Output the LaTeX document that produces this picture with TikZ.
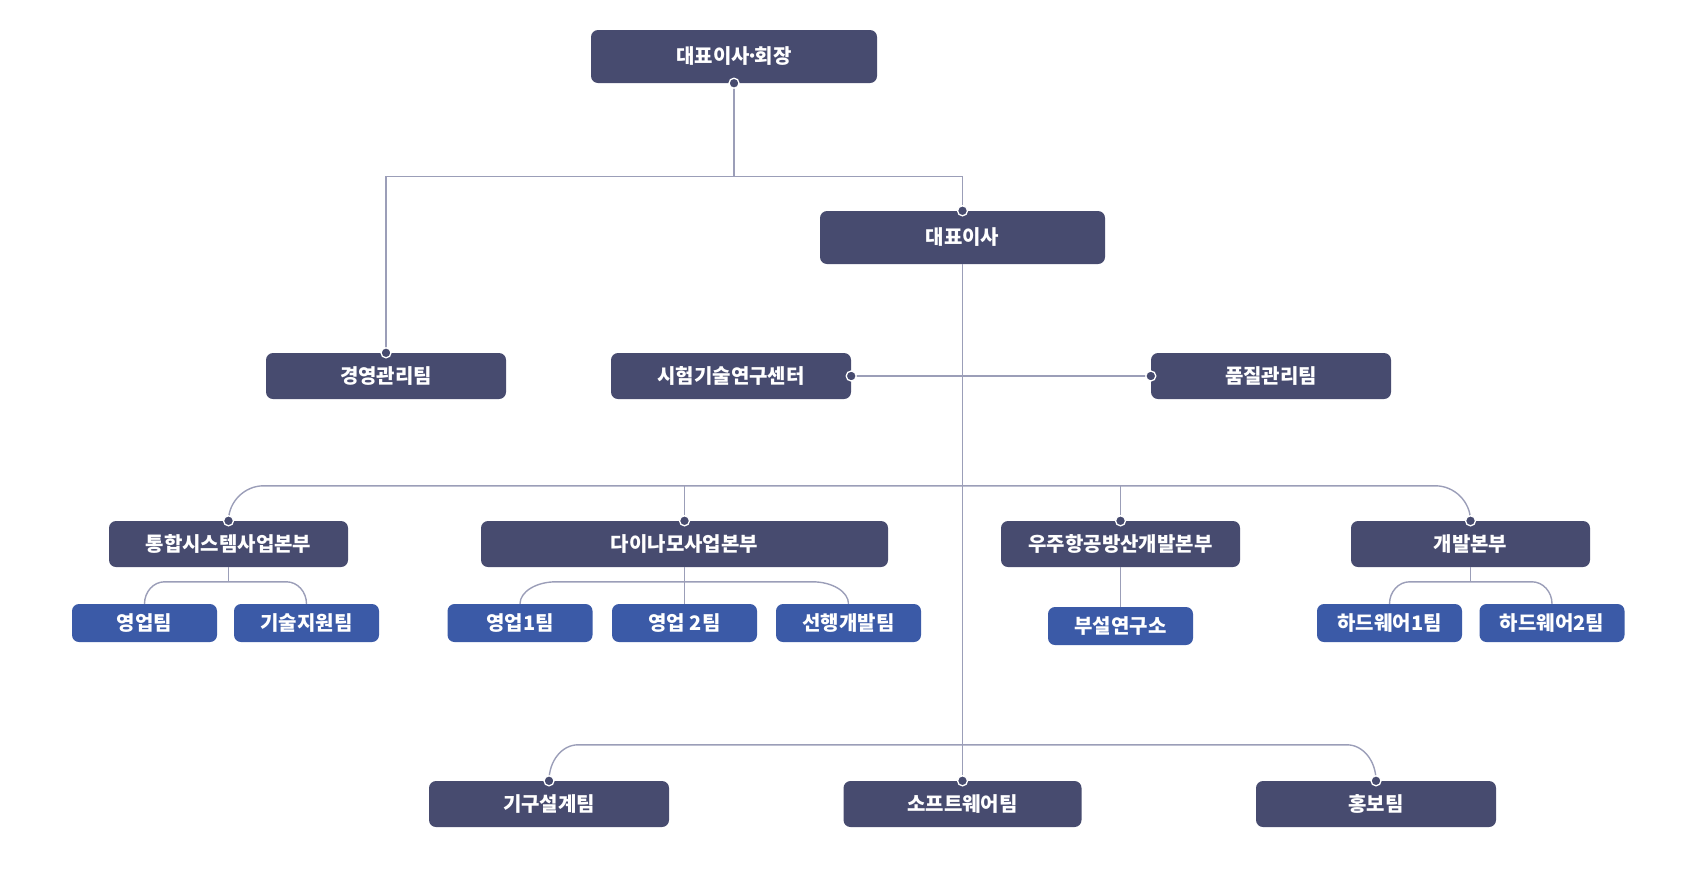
\documentclass[tikz,border=0pt]{standalone}
\usepackage{fontspec}
\setmainfont{Noto Sans CJK KR}
\definecolor{navy}{RGB}{71,75,111}
\definecolor{bluebox}{RGB}{59,90,167}
\definecolor{linec}{RGB}{155,158,184}
\begin{document}
\begin{tikzpicture}[x=1pt,y=1pt,
  box/.style={fill=navy, rounded corners=7pt, text=white, inner sep=0pt,
    font=\fontsize{20}{20}\selectfont\bfseries, minimum height=46pt, minimum width=240pt},
  sub/.style={box, fill=bluebox, minimum height=38pt, minimum width=145pt},
  conn/.style={draw=linec, line width=1.4pt},
  dot/.style={circle, fill=navy, draw=white, line width=1.3pt, inner sep=0pt, minimum size=10pt}]
\useasboundingbox (0,0) rectangle (1685,-868);

% nodes
\node[box, minimum width=286pt, minimum height=53pt] (ceo) at (734,-56.5) {대표이사\kern-0.18em·\kern-0.18em회장};
\node[box, minimum width=285pt, minimum height=53pt] (rep) at (962.5,-237.5) {대표이사};

\node[box] (mgmt) at (386,-376) {경영관리팀};
\node[box] (lab) at (731,-376) {시험기술연구센터};
\node[box] (qa) at (1271,-376) {품질관리팀};

\node[box, minimum width=239pt] (d1) at (228.5,-544) {통합시스템사업본부};
\node[box, minimum width=407pt] (d2) at (684.5,-544) {다이나모사업본부};
\node[box, minimum width=239pt] (d3) at (1120.5,-544) {우주항공방산개발본부};
\node[box, minimum width=239pt] (d4) at (1470.5,-544) {개발본부};

\node[sub] (a1) at (144.5,-623) {영업팀};
\node[sub] (a2) at (306.5,-623) {기술지원팀};
\node[sub] (b1) at (520,-623) {영업1팀};
\node[sub] (b2) at (684.5,-623) {영업 2팀};
\node[sub] (b3) at (848.5,-623) {선행개발팀};
\node[sub] (c1) at (1120.5,-626) {부설연구소};
\node[sub] (e1) at (1389.5,-623) {하드웨어1팀};
\node[sub] (e2) at (1552,-623) {하드웨어2팀};

\node[box] (k1) at (549,-804) {기구설계팀};
\node[box, minimum width=238pt] (k2) at (962.5,-804) {소프트웨어팀};
\node[box] (k3) at (1376,-804) {홍보팀};

% connectors
\draw[conn] (ceo.south) -- ++(0,-93) coordinate (j1);
\draw[conn] (mgmt.north) |- (j1) -| (rep.north);
\draw[conn] (rep.south) -- (k2.north);
\draw[conn] (lab.east) -- (qa.west);

% division bus
\draw[conn] (d1.north) .. controls ([yshift=19pt]d1.north) and ([xshift=16pt,yshift=35pt]d1.north) .. ([xshift=35pt,yshift=35pt]d1.north)
  -- ([xshift=-35pt,yshift=35pt]d4.north) .. controls ([xshift=-16pt,yshift=35pt]d4.north) and ([yshift=19pt]d4.north) .. (d4.north);
\draw[conn] (d2.north) -- ++(0,35);
\draw[conn] (d3.north) -- ++(0,35);

% sub groups
\draw[conn] (d1.south) -- ++(0,-15);
\draw[conn] (a1.north) .. controls ([yshift=12pt]a1.north) and ([xshift=9pt,yshift=22pt]a1.north) .. ([xshift=20pt,yshift=22pt]a1.north)
  -- ([xshift=-20pt,yshift=22pt]a2.north) .. controls ([xshift=-9pt,yshift=22pt]a2.north) and ([yshift=12pt]a2.north) .. (a2.north);

\draw[conn] (d2.south) -- (b2.north);
\draw[conn] (b1.north) .. controls ([yshift=12pt]b1.north) and ([xshift=16pt,yshift=22pt]b1.north) .. ([xshift=36pt,yshift=22pt]b1.north)
  -- ([xshift=-36pt,yshift=22pt]b3.north) .. controls ([xshift=-16pt,yshift=22pt]b3.north) and ([yshift=12pt]b3.north) .. (b3.north);

\draw[conn] (d3.south) -- (c1.north);

\draw[conn] (d4.south) -- ++(0,-15);
\draw[conn] (e1.north) .. controls ([yshift=12pt]e1.north) and ([xshift=9pt,yshift=22pt]e1.north) .. ([xshift=20pt,yshift=22pt]e1.north)
  -- ([xshift=-20pt,yshift=22pt]e2.north) .. controls ([xshift=-9pt,yshift=22pt]e2.north) and ([yshift=12pt]e2.north) .. (e2.north);

% bottom bus
\draw[conn] (k1.north) .. controls ([yshift=20pt]k1.north) and ([xshift=13pt,yshift=36pt]k1.north) .. ([xshift=29pt,yshift=36pt]k1.north)
  -- ([xshift=-29pt,yshift=36pt]k3.north) .. controls ([xshift=-13pt,yshift=36pt]k3.north) and ([yshift=20pt]k3.north) .. (k3.north);

% dots
\foreach \p in {ceo.south, rep.north, mgmt.north, lab.east, qa.west, d1.north, d2.north, d3.north, d4.north, k1.north, k2.north, k3.north}
  \node[dot] at (\p) {};
\end{tikzpicture}
\end{document}
